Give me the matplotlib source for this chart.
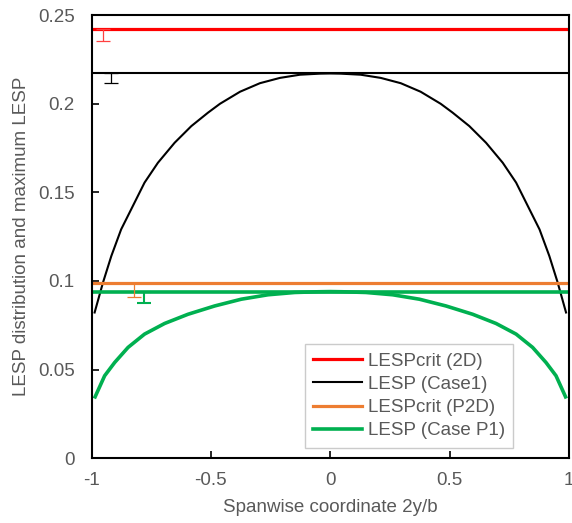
import numpy as np
import matplotlib
matplotlib.use('Agg')
import matplotlib.pyplot as plt

plt.rcParams['font.family'] = ['Liberation Sans', 'DejaVu Sans']

# spanwise stations (left half, right half mirrored)
x_half = [-0.987, -0.952, -0.917, -0.876, -0.834, -0.778, -0.722, -0.652,
          -0.582, -0.512, -0.462, -0.378, -0.295, -0.211, -0.127, -0.043, 0.0]
lesp_case1_half = [0.0822, 0.0991, 0.1141, 0.1291, 0.1404, 0.1555, 0.1667,
                   0.1780, 0.1874, 0.1950, 0.2000, 0.2068, 0.2116, 0.2146,
                   0.2164, 0.2170, 0.2171]

xg_half = [-0.985, -0.945, -0.903, -0.847, -0.778, -0.694, -0.596, -0.484,
           -0.373, -0.261, -0.149, -0.05, 0.0]
lesp_p1_half = [0.0346, 0.0465, 0.0540, 0.0625, 0.0700, 0.0760, 0.0812,
                0.0859, 0.0897, 0.0922, 0.0935, 0.0939, 0.0940]

# critical / maximum values (horizontal lines)
lesp_crit_2d = 0.2423
lesp_max_case1 = 0.2171
lesp_crit_p2d = 0.0987
lesp_max_p1 = 0.0940

# small error bars hanging below the horizontal lines
err_x = [-0.951, -0.919, -0.821, -0.78]
err_y = [lesp_crit_2d, lesp_max_case1, lesp_crit_p2d, lesp_max_p1]
err_low = [0.0070, 0.0053, 0.0077, 0.0064]

x_c1 = np.array(x_half + [-v for v in x_half[-2::-1]])
y_c1 = np.array(lesp_case1_half + lesp_case1_half[-2::-1])
x_p1 = np.array(xg_half + [-v for v in xg_half[-2::-1]])
y_p1 = np.array(lesp_p1_half + lesp_p1_half[-2::-1])

red = '#FF0000'
orange = '#ED7D31'
green = '#00B050'
grey = '#595959'
fs = 13.5

fig = plt.figure(figsize=(5.72, 5.23), dpi=100)
ax = fig.add_axes([0.160, 0.124, 0.835, 0.847])

ax.axhline(lesp_crit_2d, color=red, lw=2.3, label='LESPcrit (2D)')
ax.plot(x_c1, y_c1, color='black', lw=1.5, label='LESP (Case1)')
ax.axhline(lesp_max_case1, color='black', lw=1.5)
ax.axhline(lesp_crit_p2d, color=orange, lw=2.3, label='LESPcrit (P2D)')
ax.plot(x_p1, y_p1, color=green, lw=2.6, label='LESP (Case P1)')
ax.axhline(lesp_max_p1, color=green, lw=2.6)

err_cols = ['#FF4040', 'black', orange, green]
err_lw = [0.9, 0.9, 0.9, 1.5]
for xe, ye, le, c, w in zip(err_x, err_y, err_low, err_cols, err_lw):
    ax.errorbar([xe], [ye], yerr=[[le], [0]], fmt='none', ecolor=c,
                elinewidth=w, capsize=5, capthick=w)

ax.set_xlim(-1, 1)
ax.set_ylim(0, 0.25)
ax.set_xticks([-1, -0.5, 0, 0.5, 1])
ax.set_xticklabels(['-1', '-0.5', '0', '0.5', '1'])
ax.set_yticks([0, 0.05, 0.1, 0.15, 0.2, 0.25])
ax.set_yticklabels(['0', '0.05', '0.1', '0.15', '0.2', '0.25'])
ax.tick_params(direction='in', length=5, width=1.2, colors='black',
               labelcolor=grey, labelsize=fs)
ax.tick_params(axis='y', pad=12)
ax.tick_params(axis='x', pad=10)
for s in ax.spines.values():
    s.set_color('black')
    s.set_linewidth(1.5)

ax.set_xlabel('Spanwise coordinate 2y/b', color=grey, fontsize=fs, labelpad=7)
ax.set_ylabel('LESP distribution and maximum LESP', color=grey, fontsize=fs,
              labelpad=6)

leg = ax.legend(loc='upper left', bbox_to_anchor=(0.447, 0.257),
                borderaxespad=0, fontsize=fs, frameon=True, fancybox=False,
                edgecolor='#BFBFBF', handlelength=2.6, handletextpad=0.3,
                labelspacing=0.32, borderpad=0.45)
leg.get_frame().set_linewidth(1.0)
for t in leg.get_texts():
    t.set_color(grey)

fig.savefig('out.png', dpi=100)
